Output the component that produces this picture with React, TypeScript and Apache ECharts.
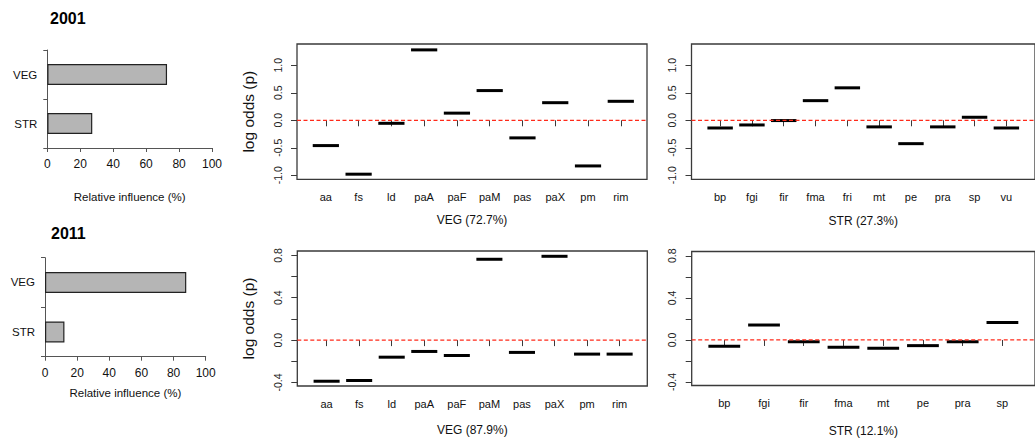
import React, { useEffect, useRef } from "react";
import * as echarts from "echarts";

// ---- Data ----
const influenceCats = ["STR", "VEG"];
const influence2001 = [27.3, 72.7];
const influence2011 = [12.1, 87.9];

const veg2001Cats = ["aa", "fs", "ld", "paA", "paF", "paM", "pas", "paX", "pm", "rim"];
const veg2001Vals = [-0.46, -0.98, -0.055, 1.28, 0.13, 0.54, -0.32, 0.32, -0.83, 0.345];

const str2001Cats = ["bp", "fgi", "fir", "fma", "fri", "mt", "pe", "pra", "sp", "vu"];
const str2001Vals = [-0.14, -0.085, -0.005, 0.357, 0.59, -0.12, -0.425, -0.12, 0.055, -0.14];

const veg2011Cats = ["aa", "fs", "ld", "paA", "paF", "paM", "pas", "paX", "pm", "rim"];
const veg2011Vals = [-0.388, -0.381, -0.161, -0.107, -0.145, 0.763, -0.116, 0.791, -0.132, -0.132];

const str2011Cats = ["bp", "fgi", "fir", "fma", "mt", "pe", "pra", "sp"];
const str2011Vals = [-0.06, 0.142, -0.016, -0.069, -0.078, -0.054, -0.016, 0.167];

const topTicks = [-1, -0.5, 0, 0.5, 1];
const bottomTicks = [-0.4, -0.2, 0, 0.2, 0.4, 0.6, 0.8];
const bottomLabels = [-0.4, 0, 0.4, 0.8];

const FONT = "Liberation Sans, Arial, Helvetica, sans-serif";
const FRAME = "#3a3a3a";

export default function App() {
  const ref = useRef<HTMLDivElement>(null);

  useEffect(() => {
    if (!ref.current) return;
    const chart = echarts.init(ref.current, null, { renderer: "svg" });

    const panels = [
      { grid: { left: 297, top: 44, width: 350, height: 135.3 }, cats: veg2001Cats, vals: veg2001Vals, xmin: 0.12, xmax: 10.8, ymin: -1.073, ymax: 1.387, ticks: topTicks, labels: topTicks, name: "VEG (72.7%)", yName: "log odds (p)", nameGap: 35 },
      { grid: { left: 691.5, top: 44, width: 351, height: 135.3 }, cats: str2001Cats, vals: str2001Vals, xmin: 0.1, xmax: 10.9, ymin: -1.073, ymax: 1.387, ticks: topTicks, labels: topTicks, name: "STR (27.3%)", yName: "", nameGap: 36 },
      { grid: { left: 297.3, top: 251, width: 350, height: 135 }, cats: veg2011Cats, vals: veg2011Vals, xmin: 0.1, xmax: 10.85, ymin: -0.433, ymax: 0.841, ticks: bottomTicks, labels: bottomLabels, name: "VEG (87.9%)", yName: "log odds (p)", nameGap: 38 },
      { grid: { left: 691.7, top: 251.5, width: 359.4, height: 135 }, cats: str2011Cats, vals: str2011Vals, xmin: 0.18, xmax: 8.82, ymin: -0.433, ymax: 0.841, ticks: bottomTicks, labels: bottomLabels, name: "STR (12.1%)", yName: "", nameGap: 39.5 },
    ];

    const grids: any[] = [
      { left: 47.3, top: 50, width: 164.7, height: 98 },
      { left: 45, top: 257.7, width: 160.7, height: 99 },
    ];
    const xAxes: any[] = [];
    const yAxes: any[] = [];
    const series: any[] = [];

    const barGrid = (gi: number, vals: number[], nameGap: number) => {
      xAxes.push({
        gridIndex: gi, type: "value", min: 0, max: 100, interval: 20,
        splitLine: { show: false },
        axisLine: { show: true, lineStyle: { color: "#555", width: 1 } },
        axisTick: { show: true, length: 4, lineStyle: { color: "#555" } },
        axisLabel: { color: "#111", fontSize: 12, fontFamily: FONT, margin: 10 },
        name: "Relative influence (%)", nameLocation: "middle", nameGap,
        nameTextStyle: { color: "#111", fontSize: 11.5, fontFamily: FONT },
      });
      yAxes.push({
        gridIndex: gi, type: "category", data: influenceCats,
        axisLine: { show: true, lineStyle: { color: "#555", width: 1 } },
        axisTick: { show: true, length: 4, lineStyle: { color: "#555" } },
        axisLabel: { color: "#111", fontSize: 11.5, fontFamily: FONT, margin: 10 },
      });
      series.push({
        type: "bar", xAxisIndex: gi, yAxisIndex: gi, data: vals, barWidth: 21,
        itemStyle: { color: "#b5b5b5", borderColor: "#222", borderWidth: 1.2 },
        silent: true,
      });
    };
    barGrid(0, influence2001, 43);
    barGrid(1, influence2011, 30);

    panels.forEach((p, k) => {
      const gi = k + 2;
      grids.push({ ...p.grid, show: true, borderColor: FRAME, borderWidth: 1.3, backgroundColor: "transparent" });
      const idx = p.cats.map((_, i) => i + 1);
      xAxes.push({
        gridIndex: gi, type: "value", min: p.xmin, max: p.xmax,
        splitLine: { show: false },
        axisLine: { show: false },
        axisTick: { show: true, length: 6, customValues: idx, lineStyle: { color: FRAME } },
        axisLabel: {
          customValues: idx, color: "#111", fontSize: 11, fontFamily: FONT, margin: 12,
          formatter: (v: number) => p.cats[Math.round(v) - 1] ?? "",
        },
        name: p.name, nameLocation: "middle", nameGap: p.nameGap,
        nameTextStyle: { color: "#111", fontSize: 12, fontFamily: FONT },
      });
      yAxes.push({
        gridIndex: gi, type: "value", min: p.ymin, max: p.ymax,
        splitLine: { show: false },
        axisLine: { show: false },
        axisTick: { show: true, length: 6, customValues: p.ticks, lineStyle: { color: FRAME } },
        axisLabel: {
          customValues: p.labels, rotate: 90, color: "#222", fontSize: 10.5, fontFamily: FONT, margin: 14,
          formatter: (v: number) => v.toFixed(1),
        },
        name: p.yName, nameLocation: "middle", nameGap: 41,
        nameTextStyle: { color: "#111", fontSize: 15.5, fontFamily: FONT },
      });
      series.push({
        type: "custom", xAxisIndex: gi, yAxisIndex: gi, z: 2, silent: true,
        data: p.vals.map((v, i) => [i + 1, v]),
        encode: { x: 0, y: 1 },
        renderItem: (_params: any, api: any) => {
          const x = api.value(0);
          const y = api.value(1);
          const a = api.coord([x - 0.4, y]);
          const b = api.coord([x + 0.4, y]);
          return {
            type: "line",
            shape: { x1: a[0], y1: a[1], x2: b[0], y2: b[1] },
            style: { stroke: "#000", lineWidth: 3, lineCap: "butt" },
          };
        },
      });
      series.push({
        type: "line", xAxisIndex: gi, yAxisIndex: gi, z: 5, silent: true,
        data: [[p.xmin, 0], [p.xmax, 0]],
        showSymbol: false, symbol: "none",
        lineStyle: { color: "#ff2a1a", width: 1.3, type: [4, 2.5] },
      });
    });

    chart.setOption({
      animation: false,
      backgroundColor: "#fff",
      textStyle: { fontFamily: FONT },
      grid: grids,
      xAxis: xAxes,
      yAxis: yAxes,
      series,
      graphic: [
        { type: "text", left: 50, top: 10, style: { text: "2001", fontSize: 16, fontWeight: "bold", fontFamily: FONT, fill: "#000" } },
        { type: "text", left: 51, top: 225, style: { text: "2011", fontSize: 16, fontWeight: "bold", fontFamily: FONT, fill: "#000" } },
      ],
    });

    return () => chart.dispose();
  }, []);

  return (
    <div
      ref={ref}
      style={{ position: "absolute", left: 0, top: 0, width: 1035, height: 438 }}
    />
  );
}
